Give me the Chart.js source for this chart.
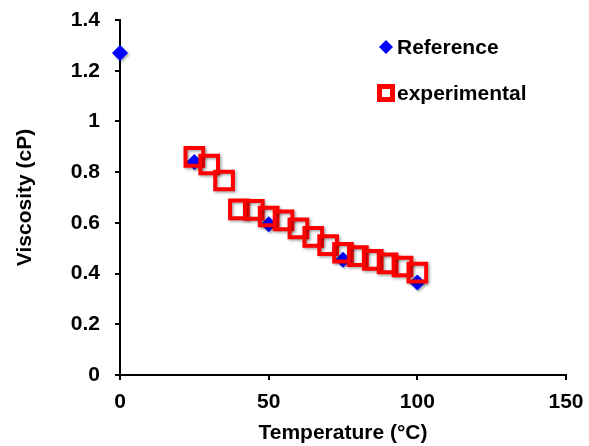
<!DOCTYPE html>
<html>
<head>
<meta charset="utf-8">
<script src="https://cdn.jsdelivr.net/npm/chart.js@4"></script>
<style>
  html, body { margin: 0; padding: 0; background: #fff; }
  #wrap { width: 589px; height: 446px; }
</style>
</head>
<body>
<div id="wrap"><canvas id="chart" width="589" height="446"></canvas></div>
<script>
// reference values
const refTemps = [0, 25, 50, 75, 100];
const refVisc = [1.27, 0.84, 0.595, 0.455, 0.365];

// experimental values
const expTemps = [25, 30, 35, 40, 45, 50, 55, 60, 65, 70, 75, 80, 85, 90, 95, 100];
const expVisc = [0.86, 0.83, 0.767, 0.653, 0.651, 0.625, 0.61, 0.578, 0.545, 0.512, 0.482, 0.469, 0.454, 0.44, 0.428, 0.404];

const xTitle = 'Temperature (°C)';
const yTitle = 'Viscosity (cP)';

const font = 'Liberation Sans, Arial, sans-serif';

function toPoints(xs, ys) {
    return xs.map((x, i) => ({ x: x, y: ys[i] }));
}

// soft shadow under the markers
const markerShadow = {
    id: 'markerShadow',
    beforeDatasetsDraw(chart) {
        const ctx = chart.ctx;
        ctx.save();
        ctx.shadowColor = 'rgba(0,0,0,0.35)';
        ctx.shadowBlur = 3;
        ctx.shadowOffsetX = 1.5;
        ctx.shadowOffsetY = 1.5;
    },
    afterDatasetsDraw(chart) {
        chart.ctx.restore();
    }
};

// legend drawn inside the plot, top right
const innerLegend = {
    id: 'innerLegend',
    afterDraw(chart) {
        const ctx = chart.ctx;
        ctx.save();
        ctx.font = 'bold 21px ' + font;
        ctx.textBaseline = 'middle';
        ctx.textAlign = 'left';

        // diamond
        ctx.fillStyle = '#0000ff';
        ctx.beginPath();
        ctx.moveTo(386, 40);
        ctx.lineTo(393, 47);
        ctx.lineTo(386, 54);
        ctx.lineTo(379, 47);
        ctx.closePath();
        ctx.fill();
        ctx.fillStyle = '#000';
        ctx.fillText('Reference', 397, 48);

        // square
        ctx.strokeStyle = '#ff0000';
        ctx.lineWidth = 5;
        ctx.strokeRect(379.5, 86.5, 13, 13);
        ctx.fillText('experimental', 397, 94);
        ctx.restore();
    }
};

new Chart(document.getElementById('chart'), {
    type: 'scatter',
    data: {
        datasets: [
            {
                label: 'experimental',
                data: toPoints(expTemps, expVisc),
                pointStyle: 'rect',
                pointRadius: 12.5,
                pointHoverRadius: 12.5,
                borderColor: '#ff0000',
                backgroundColor: 'rgba(0,0,0,0)',
                borderWidth: 4,
                pointBorderWidth: 4,
                clip: false
            },
            {
                label: 'Reference',
                data: toPoints(refTemps, refVisc),
                pointStyle: 'rectRot',
                pointRadius: 8,
                pointHoverRadius: 8,
                borderColor: '#0000ff',
                backgroundColor: '#0000ff',
                borderWidth: 0,
                clip: false
            }
        ]
    },
    options: {
        responsive: false,
        animation: false,
        layout: { padding: { top: 20, right: 23, left: 0, bottom: 0 } },
        plugins: {
            legend: { display: false },
            tooltip: { enabled: false }
        },
        scales: {
            x: {
                type: 'linear',
                min: 0,
                max: 150,
                afterFit: (scale) => {
                    scale.height = 71;
                    scale.paddingLeft = 0;
                    scale.paddingRight = 0;
                },
                ticks: {
                    stepSize: 50,
                    color: '#000',
                    padding: 10,
                    font: { family: font, size: 21, weight: 'bold' }
                },
                grid: { drawOnChartArea: false, drawTicks: true, tickLength: 5, tickColor: '#000', lineWidth: 2 },
                border: { color: '#000', width: 2 },
                title: {
                    display: true,
                    text: xTitle,
                    color: '#000',
                    padding: { top: -4, bottom: 0 },
                    font: { family: font, size: 21, weight: 'bold' }
                }
            },
            y: {
                type: 'linear',
                min: 0,
                max: 1.4,
                afterFit: (scale) => {
                    scale.width = 120;
                    scale.paddingTop = 0;
                    scale.paddingBottom = 0;
                },
                ticks: {
                    stepSize: 0.2,
                    color: '#000',
                    padding: 15,
                    font: { family: font, size: 21, weight: 'bold' },
                    callback: (v) => Math.round(v * 10) / 10
                },
                grid: { drawOnChartArea: false, drawTicks: true, tickLength: 5, tickColor: '#000', lineWidth: 2 },
                border: { color: '#000', width: 2 },
                title: {
                    display: true,
                    text: yTitle,
                    color: '#000',
                    padding: { top: 13, bottom: 0 },
                    font: { family: font, size: 21, weight: 'bold' }
                }
            }
        }
    },
    plugins: [markerShadow, innerLegend]
});
</script>
</body>
</html>
